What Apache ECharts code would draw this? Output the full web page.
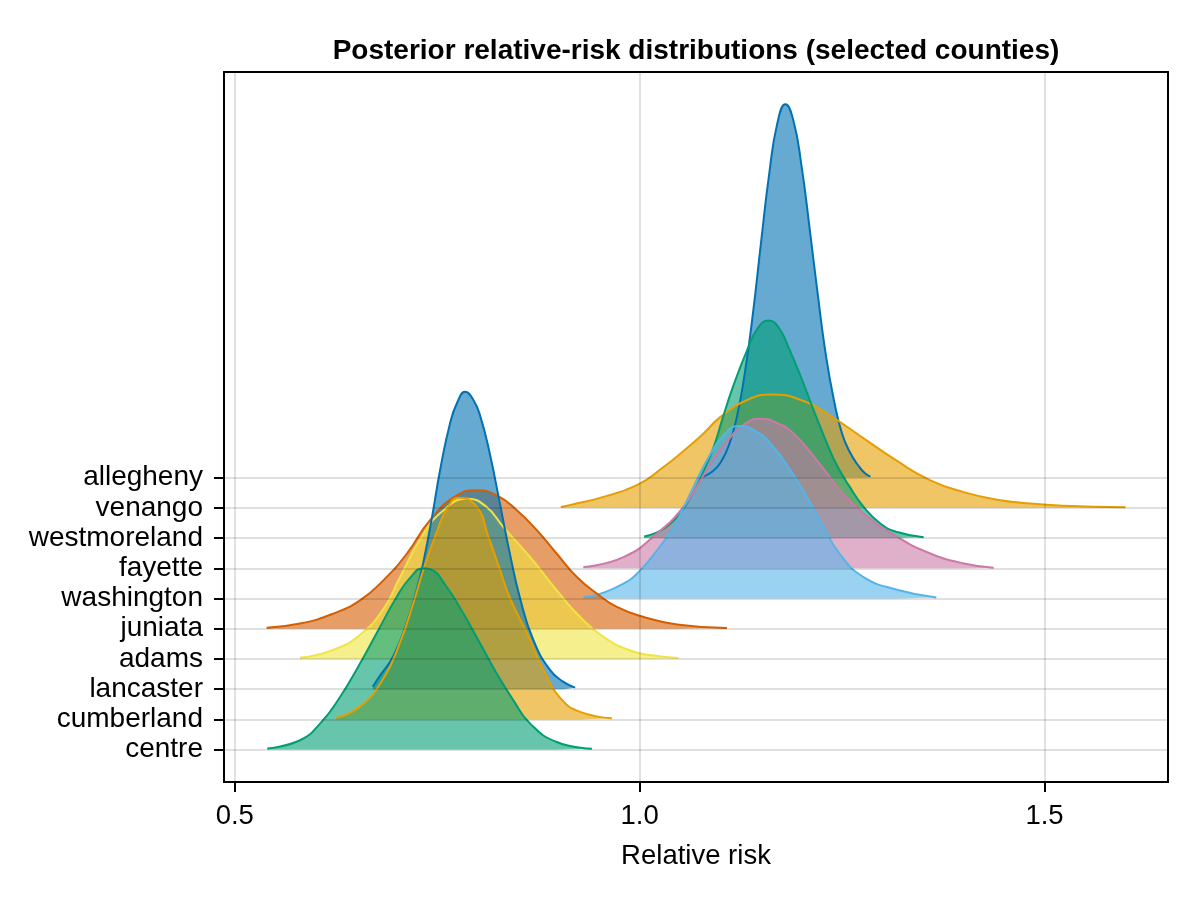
<!DOCTYPE html>
<html>
<head>
<meta charset="utf-8">
<script src="https://cdn.jsdelivr.net/npm/echarts@6/dist/echarts.min.js"></script>
<style>
  html, body { margin: 0; padding: 0; background: #fff; }
  #main { width: 1200px; height: 900px; }
</style>
</head>
<body>
<div id="main"></div>
<script>
// counties from top row to bottom row
const counties = ['allegheny', 'venango', 'westmoreland', 'fayette', 'washington',
  'juniata', 'adams', 'lancaster', 'cumberland', 'centre']
const xTicks = [0.5, 1.0, 1.5]

// density curves: [relative risk, height in rows]
const allegheny = [[1.078, 0.03], [1.090, 0.20], [1.100, 0.50], [1.110, 1.05], [1.120, 2.0],
  [1.130, 3.48], [1.140, 5.45], [1.150, 7.8], [1.160, 10.05], [1.170, 11.72], [1.180, 12.35],
  [1.190, 11.80], [1.200, 10.30], [1.210, 8.23], [1.220, 6.05], [1.230, 4.05],
  [1.240, 2.55], [1.250, 1.45], [1.260, 0.82], [1.270, 0.40], [1.278, 0.15], [1.285, 0.03]]
const venango = [[0.9027, 0.03], [0.9183, 0.12], [0.950, 0.32], [0.9966, 0.75],
  [1.0295, 1.35], [1.0542, 1.88], [1.0789, 2.46], [1.0995, 3.00], [1.1325, 3.56],
  [1.163, 3.75], [1.2067, 3.49], [1.2354, 3.05], [1.2766, 2.30], [1.3179, 1.55],
  [1.3590, 0.91], [1.4002, 0.52], [1.4414, 0.27], [1.4826, 0.14], [1.5237, 0.07],
  [1.600, 0.02]]
const westmoreland = [[1.0056, 0.05], [1.020, 0.17], [1.0337, 0.38], [1.048, 0.75],
  [1.062, 1.3], [1.077, 2.1], [1.0913, 3.0], [1.1029, 4.0], [1.1152, 5.0],
  [1.1325, 6.2], [1.146, 6.95], [1.1592, 7.20], [1.172, 6.95], [1.184, 6.3],
  [1.2025, 5.1], [1.2182, 4.0], [1.2334, 3.0], [1.2437, 2.4], [1.2581, 1.75],
  [1.2766, 1.03], [1.2972, 0.48], [1.3179, 0.20], [1.3507, 0.03]]
const fayette = [[0.9306, 0.04], [0.9800, 0.37], [1.0213, 1.15], [1.0542, 2.03],
  [1.075, 2.9], [1.0913, 3.62], [1.1119, 4.33], [1.130, 4.78], [1.149, 4.95],
  [1.170, 4.8], [1.1901, 4.46], [1.2190, 3.57], [1.2478, 2.58], [1.2766, 1.81],
  [1.3179, 1.04], [1.3590, 0.49], [1.4002, 0.16], [1.4372, 0.02]]
const washington = [[0.9306, 0.04], [0.9492, 0.14], [0.9800, 0.49], [1.0007, 0.93],
  [1.0213, 1.59], [1.0418, 2.36], [1.0625, 3.47], [1.0831, 4.57], [1.1036, 5.40],
  [1.1222, 5.71], [1.1449, 5.51], [1.1654, 5.01], [1.1860, 4.24], [1.2067, 3.36],
  [1.2272, 2.36], [1.2478, 1.45], [1.2766, 0.71], [1.3179, 0.29], [1.3664, 0.03]]
const juniata = [[0.5394, 0.03], [0.5806, 0.17], [0.6217, 0.50], [0.6547, 0.94],
  [0.6835, 1.60], [0.7124, 2.48], [0.7412, 3.59], [0.7742, 4.41], [0.7989, 4.58],
  [0.8236, 4.41], [0.8483, 3.92], [0.8730, 3.26], [0.8977, 2.48], [0.9225, 1.71],
  [0.9472, 1.16], [0.9719, 0.72], [1.0048, 0.39], [1.0460, 0.14], [1.1078, 0.02]]
const adams = [[0.5806, 0.04], [0.6217, 0.3], [0.6547, 0.8], [0.6835, 1.65],
  [0.7040, 2.7], [0.7288, 3.95], [0.755, 4.85], [0.787, 5.3], [0.810, 5.05],
  [0.8318, 4.36], [0.8648, 3.37], [0.8977, 2.27], [0.9265, 1.39], [0.9553, 0.73],
  [0.9883, 0.28], [1.015, 0.12], [1.048, 0.03]]
const lancaster = [[0.6704, 0.08], [0.6794, 0.45], [0.6959, 1.1], [0.7124, 2.2],
  [0.7248, 3.3], [0.7329, 4.2], [0.7433, 5.65], [0.7536, 7.25], [0.7659, 8.8],
  [0.775, 9.5], [0.7844, 9.84], [0.794, 9.6], [0.8030, 9.05], [0.8153, 7.75],
  [0.8277, 6.1], [0.8400, 4.45], [0.8524, 3.0], [0.8688, 1.62], [0.8895, 0.63],
  [0.9059, 0.24], [0.9204, 0.05]]
const cumberland = [[0.6250, 0.05], [0.6547, 0.43], [0.6835, 1.35], [0.7041, 2.55],
  [0.7206, 3.85], [0.7329, 4.95], [0.7494, 6.2], [0.7618, 6.95], [0.7762, 7.33],
  [0.7989, 7.03], [0.8133, 6.04], [0.8277, 4.93], [0.8400, 4.0], [0.8600, 2.9],
  [0.8820, 1.6], [0.9030, 0.68], [0.9265, 0.25], [0.9657, 0.04]]
const centre = [[0.5402, 0.04], [0.5806, 0.31], [0.6053, 0.86], [0.6300, 1.74],
  [0.6547, 2.85], [0.6794, 4.06], [0.7000, 5.05], [0.7170, 5.7], [0.7329, 6.0],
  [0.7412, 5.97], [0.7618, 5.38], [0.7823, 4.50], [0.8030, 3.51], [0.8236, 2.51],
  [0.8441, 1.63], [0.8648, 0.86], [0.8977, 0.25], [0.9410, 0.03]]

const curves = { allegheny, venango, westmoreland, fayette, washington,
  juniata, adams, lancaster, cumberland, centre }
// Makie's Wong palette, cycled from the top row
const palette = ['#0072B2', '#E69F00', '#009E73', '#CC79A7', '#56B4E9', '#D55E00', '#F0E442']
const font = 'Liberation Sans, Arial, sans-serif'
const nRows = counties.length
const rowIdx = counties.map((c, k) => k) // 0..9 bottom-up

const series = [{
  // only here for the grid lines, drawn under the ridges
  type: 'line', data: [], z: 1, silent: true,
  markLine: {
    silent: true, symbol: ['none', 'none'], label: { show: false },
    lineStyle: { type: 'solid', color: 'rgba(0,0,0,0.12)', width: 2 },
    data: rowIdx.map(i => ({ yAxis: i })).concat(xTicks.map(v => ({ xAxis: v })))
  }
}]

counties.forEach((name, k) => {
  const base = nRows - 1 - k
  const color = palette[k % palette.length]
  series.push({
    name: name,
    type: 'line',
    data: curves[name].map(p => [p[0], base + p[1]]),
    smooth: 0.5,
    symbol: 'none',
    z: 2,
    lineStyle: { color: color, width: 2 },
    areaStyle: { color: color, opacity: 0.6, origin: base }
  })
})

const chart = echarts.init(document.getElementById('main'))
chart.setOption({
  animation: false,
  backgroundColor: '#fff',
  title: {
    text: 'Posterior relative-risk distributions (selected counties)',
    left: 691, top: 32, textAlign: 'center',
    textStyle: { fontFamily: font, fontSize: 28, fontWeight: 'bold', color: '#000' }
  },
  grid: { left: 224, right: 32, top: 72, bottom: 118, show: true,
    borderColor: '#000', borderWidth: 2, containLabel: false },
  xAxis: {
    type: 'value', min: 0.4867, max: 1.6525,
    name: 'Relative risk', nameLocation: 'middle', nameGap: 60,
    nameTextStyle: { fontFamily: font, fontSize: 27.5, color: '#000' },
    axisLine: { show: false, onZero: false },
    axisTick: { show: true, customValues: xTicks, length: 10, lineStyle: { color: '#000', width: 2 } },
    axisLabel: { customValues: xTicks, formatter: v => v.toFixed(1), margin: 20,
      fontFamily: font, fontSize: 27.5, color: '#000' },
    splitLine: { show: false }
  },
  yAxis: {
    type: 'value', min: -1.072, max: 22.42,
    axisLine: { show: false, onZero: false },
    axisTick: { show: true, customValues: rowIdx, length: 10, lineStyle: { color: '#000', width: 2 } },
    axisLabel: { customValues: rowIdx, formatter: v => counties[nRows - 1 - Math.round(v)],
      margin: 21, fontFamily: font, fontSize: 28, color: '#000' },
    splitLine: { show: false }
  },
  series: series
})
</script>
</body>
</html>
